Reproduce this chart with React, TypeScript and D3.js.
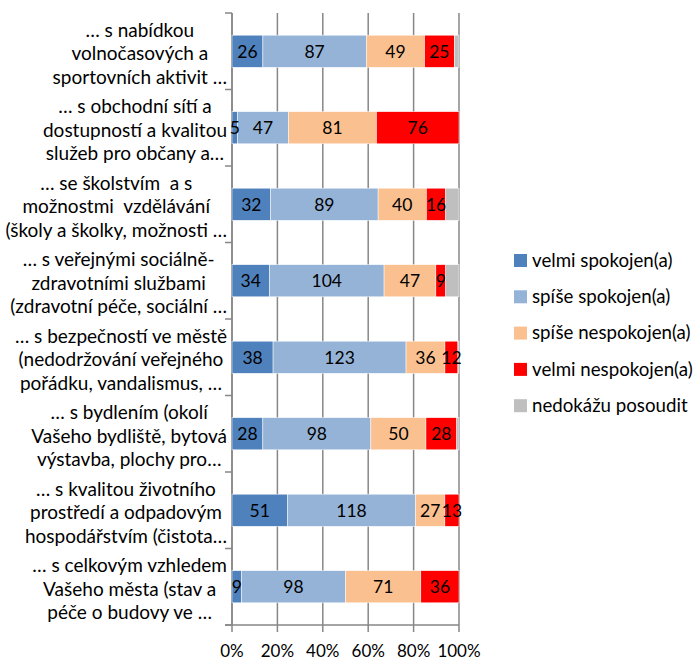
import React, { useRef, useLayoutEffect, useState } from 'react';
import * as d3 from 'd3';

const categories: string[][] = [
  ['… s nabídkou', 'volnočasových a', 'sportovních aktivit …'],
  ['… s obchodní sítí a', 'dostupností a kvalitou', 'služeb pro občany a…'],
  ['… se školstvím  a s', 'možnostmi  vzdělávání', '(školy a školky, možnosti …'],
  ['… s veřejnými sociálně-', 'zdravotními službami', '(zdravotní péče, sociální …'],
  ['… s bezpečností ve městě', '(nedodržování veřejného', 'pořádku, vandalismus, …'],
  ['… s bydlením (okolí', 'Vašeho bydliště, bytová', 'výstavba, plochy pro…'],
  ['… s kvalitou životního', 'prostředí a odpadovým', 'hospodářstvím (čistota…'],
  ['… s celkovým vzhledem', 'Vašeho města (stav a', 'péče o budovy ve …'],
];

const seriesNames = ['velmi spokojen(a)', 'spíše spokojen(a)', 'spíše nespokojen(a)', 'velmi nespokojen(a)', 'nedokážu posoudit'];
const seriesColors = ['#4F81BD', '#95B3D7', '#FAC090', '#FF0000', '#BFBFBF'];

const velmiSpokojen = [26, 5, 32, 34, 38, 28, 51, 9];
const spiseSpokojen = [87, 47, 89, 104, 123, 98, 118, 98];
const spiseNespokojen = [49, 81, 40, 47, 36, 50, 27, 71];
const velmiNespokojen = [25, 76, 16, 9, 12, 28, 13, 36];
const nedokazu = [4, 0, 11, 12, 1, 2, 0, 0];
const showLabel = [true, true, true, true, false];

const xTicks = [0, 0.2, 0.4, 0.6, 0.8, 1];

const W = 695, H = 660;
const left = 232, right = 459, top = 13, bottom = 625;
const FONT = 'Lato, "Open Sans", sans-serif';

export default function App() {
  const labelRef = useRef<SVGGElement>(null);
  const [widths, setWidths] = useState<number[]>([]);

  const series = [velmiSpokojen, spiseSpokojen, spiseNespokojen, velmiNespokojen, nedokazu];
  const rows = categories.map((_, i) => {
    const vals = series.map((s) => s[i]);
    const total = d3.sum(vals);
    let acc = 0;
    return vals.map((v, k) => {
      const x0 = acc / total;
      acc += v;
      return { k, v, x0, x1: acc / total };
    });
  });

  const x = d3.scaleLinear().domain([0, 1]).range([left, right]);
  const y = d3.scaleBand<number>().domain(d3.range(categories.length)).range([top, bottom]).paddingInner(0.58).paddingOuter(0.29);
  const band = d3.scaleBand<number>().domain(d3.range(categories.length)).range([top, bottom]);

  useLayoutEffect(() => {
    if (!labelRef.current) return;
    const groups = Array.from(labelRef.current.querySelectorAll('g.cat'));
    setWidths(groups.map((g) => d3.max(Array.from(g.querySelectorAll('text')), (t) => (t as SVGTextElement).getComputedTextLength()) || 0));
  }, []);

  const labelRight = 227;

  return (
    <svg width={W} height={H} style={{ position: 'absolute', left: 0, top: 0, background: '#fff' }} fontFamily={FONT}>
      {/* gridlines */}
      {xTicks.map((t) => (
        <line key={t} x1={x(t)} x2={x(t)} y1={top} y2={bottom + 7} stroke="#878787" strokeWidth={1.5} />
      ))}
      {/* category axis */}
      <line x1={left} x2={left} y1={top} y2={bottom} stroke="#878787" strokeWidth={1.5} />
      <line x1={left - 7} x2={right} y1={bottom} y2={bottom} stroke="#878787" strokeWidth={1.5} />
      {d3.range(categories.length + 1).map((i) => {
        const yy = i < categories.length ? band(i)! : bottom;
        return <line key={i} x1={left - 7} x2={left} y1={yy} y2={yy} stroke="#878787" strokeWidth={1.5} />;
      })}
      {/* bars */}
      {rows.map((segs, i) => (
        <g key={i}>
          {segs.map((s) => (
            <rect key={s.k} x={x(s.x0)} y={y(i)} width={Math.max(0, x(s.x1) - x(s.x0))} height={y.bandwidth()} fill={seriesColors[s.k]} stroke="#fff" strokeWidth={0.5} />
          ))}
          {segs.filter((s) => showLabel[s.k] && s.v > 0).map((s) => (
            <text key={'l' + s.k} x={(x(s.x0) + x(s.x1)) / 2} y={y(i)! + y.bandwidth() / 2} dy="0.36em" textAnchor="middle" fontSize={17.5} fill="#000">{s.v}</text>
          ))}
        </g>
      ))}
      {/* category labels */}
      <g ref={labelRef}>
        {categories.map((lines, i) => {
          const cy = band(i)! + band.bandwidth() / 2 + 2;
          const w = widths[i] || 0;
          const cx = labelRight - w / 2;
          return (
            <g className="cat" key={i}>
              {lines.map((ln, j) => (
                <text key={j} x={cx} y={cy + (j - 1) * 23.5} dy="0.36em" textAnchor="middle" fontSize={19} fill="#000" style={{ whiteSpace: 'pre' }}>{ln}</text>
              ))}
            </g>
          );
        })}
      </g>
      {/* x axis labels */}
      {xTicks.map((t) => (
        <text key={t} x={x(t)} y={651} dy="0.34em" textAnchor="middle" fontSize={17} fill="#000">{d3.format('.0%')(t)}</text>
      ))}
      {/* legend */}
      {seriesNames.map((n, k) => (
        <g key={n} transform={`translate(514, ${260 + k * 36.3})`}>
          <rect x={0} y={-6} width={13} height={13} fill={seriesColors[k]} />
          <text x={18} y={0} dy="0.36em" fontSize={18.7} fill="#000">{n}</text>
        </g>
      ))}
    </svg>
  );
}
